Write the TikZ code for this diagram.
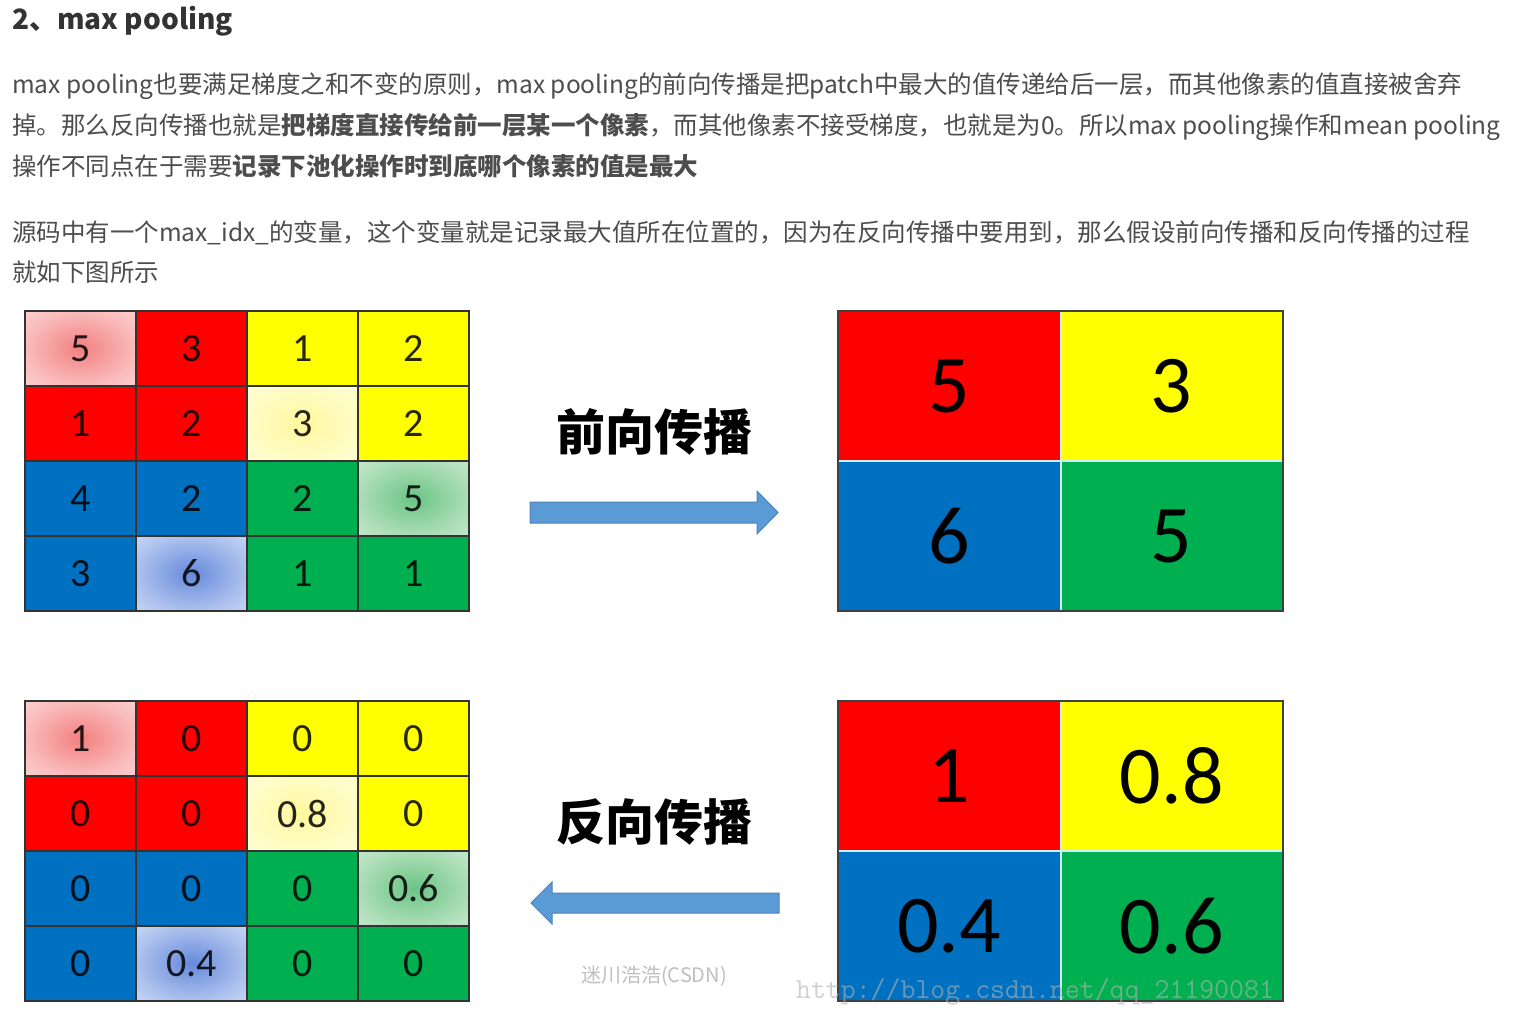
\documentclass[tikz,border=0pt]{standalone}
\usepackage{fontspec}
\setmainfont{Noto Sans CJK SC}
\newfontfamily\numfont{Carlito}
\usepackage{xcolor}

\definecolor{cred}{RGB}{255,0,0}
\definecolor{cyellow}{RGB}{255,255,0}
\definecolor{cblue}{RGB}{0,112,192}
\definecolor{cgreen}{RGB}{0,176,80}
\definecolor{arrowblue}{RGB}{91,155,213}
\definecolor{bodytext}{RGB}{77,77,77}

% soft highlighted cells
\pgfdeclareradialshading{redglow}{\pgfpointorigin}{rgb(0bp)=(0.95,0.50,0.50);rgb(25bp)=(0.98,0.74,0.74);rgb(50bp)=(0.99,0.91,0.91)}
\pgfdeclareradialshading{yellowglow}{\pgfpointorigin}{rgb(0bp)=(1,0.97,0.62);rgb(25bp)=(1,0.99,0.78);rgb(50bp)=(1,1,0.87)}
\pgfdeclareradialshading{greenglow}{\pgfpointorigin}{rgb(0bp)=(0.42,0.77,0.52);rgb(25bp)=(0.68,0.87,0.72);rgb(50bp)=(0.89,0.96,0.90)}
\pgfdeclareradialshading{blueglow}{\pgfpointorigin}{rgb(0bp)=(0.40,0.54,0.86);rgb(25bp)=(0.68,0.76,0.93);rgb(50bp)=(0.92,0.94,0.99)}

\tikzset{
  para/.style={anchor=base west,inner sep=0pt,text=bodytext,font=\fontsize{24.5}{24.5}\selectfont},
  cell/.style={draw=black!80,line width=1.5pt,minimum width=111pt,minimum height=75pt,
    inner sep=0pt,text opacity=.85,font=\numfont\fontsize{40}{40}\selectfont},
  bigcell/.style={minimum width=222.5pt,minimum height=150pt,inner sep=0pt,
    font=\numfont\fontsize{82}{82}\selectfont},
  pr/.style={fill=cred}, py/.style={fill=cyellow},
  pb/.style={fill=cblue}, pg/.style={fill=cgreen},
  rg/.style={shading=redglow}, yg/.style={shading=yellowglow},
  bg/.style={shading=blueglow}, gg/.style={shading=greenglow},
  flowarrow/.style={fill=arrowblue,draw=arrowblue!85!black,line width=1pt},
  steplabel/.style={inner sep=0pt,font=\bfseries\fontsize{49}{49}\selectfont}
}

\begin{document}
\begin{tikzpicture}[x=1pt,y=-1pt]
 \useasboundingbox[fill=white] (0,0) rectangle (1522,1014);
 % text above the picture
 \node[para,text=black!80,font=\bfseries\fontsize{28}{28}\selectfont] (title) at (12,30) {2、max pooling};
 \node[para] (l1) at (12,94) {max pooling也要满足梯度之和不变的原则，max pooling的前向传播是把patch中最大的值传递给后一层，而其他像素的值直接被舍弃};
 \node[para] (l2) at (12,135) {掉。那么反向传播也就是{\bfseries 把梯度直接传给前一层某一个像素}，而其他像素不接受梯度，也就是为0。所以max pooling操作和mean pooling};
 \node[para] (l3) at (12,175) {操作不同点在于需要{\bfseries 记录下池化操作时到底哪个像素的值是最大}};
 \node[para] (l4) at (12,241) {源码中有一个max\_idx\_的变量，这个变量就是记录最大值所在位置的，因为在反向传播中要用到，那么假设前向传播和反向传播的过程};
 \node[para] (l5) at (12,281) {就如下图所示};

 % 4x4 input, forward
 \foreach \c/\r/\s/\v in {1/1/rg/5,2/1/pr/3,3/1/py/1,4/1/py/2,
   1/2/pr/1,2/2/pr/2,3/2/yg/3,4/2/py/2,
   1/3/pb/4,2/3/pb/2,3/3/pg/2,4/3/gg/5,
   1/4/pb/3,2/4/bg/6,3/4/pg/1,4/4/pg/1}
  \node[cell,\s] (f\r\c) at ({25+111*(\c-.5)},{311+75*(\r-.5)}) {\v};
 % 4x4 gradient, backward
 \foreach \c/\r/\s/\v in {1/1/rg/1,2/1/pr/0,3/1/py/0,4/1/py/0,
   1/2/pr/0,2/2/pr/0,3/2/yg/0.8,4/2/py/0,
   1/3/pb/0,2/3/pb/0,3/3/pg/0,4/3/gg/0.6,
   1/4/pb/0,2/4/bg/0.4,3/4/pg/0,4/4/pg/0}
  \node[cell,\s] (b\r\c) at ({25+111*(\c-.5)},{701+75*(\r-.5)}) {\v};

 % 2x2 pooled
 \node[bigcell,pr] (p11) at (949.25,386) {5};
 \node[bigcell,py] (p12) at (1171.75,386) {3};
 \node[bigcell,pb] (p21) at (949.25,536) {6};
 \node[bigcell,pg] (p22) at (1171.75,536) {5};
 \draw[white!80!cyan,line width=2pt] (p11.south west) -- (p12.south east);
 \draw[white!80!cyan,line width=2pt] (p11.north east) -- (p21.south east);
 \draw[black!75,line width=1.5pt] (p11.north west) rectangle (p22.south east);

 \node[bigcell,pr] (q11) at (949.25,776) {1};
 \node[bigcell,py] (q12) at (1171.75,776) {0.8};
 \node[bigcell,pb] (q21) at (949.25,926) {0.4};
 \node[bigcell,pg] (q22) at (1171.75,926) {0.6};
 \draw[white!80!cyan,line width=2pt] (q11.south west) -- (q12.south east);
 \draw[white!80!cyan,line width=2pt] (q11.north east) -- (q21.south east);
 \draw[black!75,line width=1.5pt] (q11.north west) rectangle (q22.south east);

 % arrows and their labels
 \node[steplabel] (fwd) at (654,432) {前向传播};
 \draw[flowarrow] (530,502) -- (757,502) -- (757,491) -- (778,512.5) -- (757,534) -- (757,523) -- (530,523) -- cycle;
 \node[steplabel] (bwd) at (654,822) {反向传播};
 \draw[flowarrow] (779,893) -- (552,893) -- (552,882) -- (531,903) -- (552,924) -- (552,913) -- (779,913) -- cycle;

 % watermarks
 \node[inner sep=0pt,text=black!25,font=\fontsize{20}{20}\selectfont] (mark) at (654,976) {迷川浩浩(CSDN)};
 \node[inner sep=0pt,text=black!30,text opacity=.6,font=\ttfamily\fontsize{29}{29}\selectfont] (url) at (1035,992) {http://blog.csdn.net/qq\_21190081};
\end{tikzpicture}
\end{document}
